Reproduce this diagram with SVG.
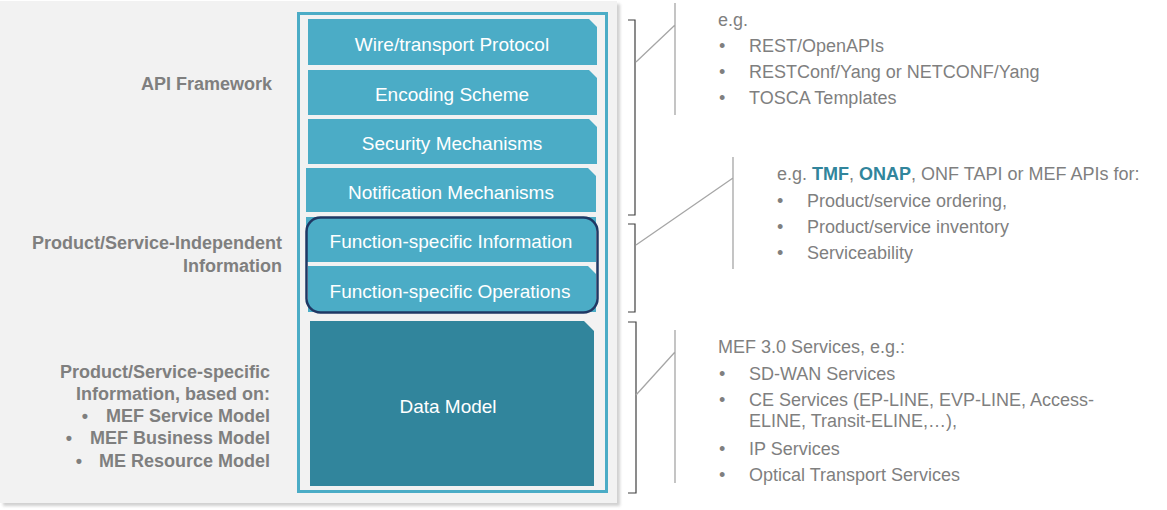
<svg xmlns="http://www.w3.org/2000/svg" width="1167" height="510" viewBox="0 0 1167 510">
<defs>
<filter id="sh" x="-5%" y="-5%" width="110%" height="110%"><feGaussianBlur stdDeviation="1.5"/></filter>
</defs>
<style>
.box{fill:#4bacc6;}
.dm{fill:#31859c;}
.bt{font-family:"Liberation Sans",Arial,sans-serif;font-size:19px;fill:#ffffff;text-anchor:middle;}
.lt{font-family:"Liberation Sans",Arial,sans-serif;font-size:18px;font-weight:bold;fill:#7f7f7f;text-anchor:end;}
.rt{font-family:"Liberation Sans",Arial,sans-serif;font-size:18px;fill:#7f7f7f;}
.hl{font-weight:bold;fill:#31859c;}
.br{fill:none;stroke:#404040;stroke-width:1.2;}
.ln{fill:none;stroke:#a6a6a6;stroke-width:1.3;}
</style>
<rect width="1167" height="510" fill="#ffffff"/>
<g id="panel">
<rect x="3" y="4" width="617" height="502" fill="#d0d0d0" filter="url(#sh)"/>
<rect x="0" y="1" width="617" height="502" fill="#f2f2f2"/>
<rect x="298.5" y="13.5" width="308" height="478" fill="none" stroke="#4bacc6" stroke-width="3"/>
</g>
<g id="wire"><path class="box" d="M308 19H589L597 27V65H308Z"/><text class="bt" x="452" y="51">Wire/transport Protocol</text></g>
<g id="encoding"><path class="box" d="M308 70H589L597 78V115H308Z"/><text class="bt" x="452" y="101">Encoding Scheme</text></g>
<g id="security"><path class="box" d="M308 119H589L597 127V164H308Z"/><text class="bt" x="452" y="150">Security Mechanisms</text></g>
<g id="notification"><path class="box" d="M306 168H588L596 176V212H306Z"/><text class="bt" x="451" y="199">Notification Mechanisms</text></g>
<g id="fsinfo"><rect class="box" x="306" y="217" width="290" height="45"/><text class="bt" x="451" y="248">Function-specific Information</text></g>
<g id="fsops"><path class="box" d="M308 266H588L596 274V312H308Z"/><text class="bt" x="450" y="298">Function-specific Operations</text></g>
<g id="fsgroup"><rect x="306.5" y="217.5" width="291" height="95" rx="14" fill="none" stroke="#1f3864" stroke-width="2.5"/></g>
<g id="datamodel"><path class="dm" d="M310 321H584L594 331V486H310Z"/><text class="bt" x="448" y="413">Data Model</text></g>
<g id="labels">
<text class="lt" x="272" y="90">API Framework</text>
<text class="lt" x="282" y="249">Product/Service-Independent</text>
<text class="lt" x="282" y="272">Information</text>
<text class="lt" x="270" y="378">Product/Service-specific</text>
<text class="lt" x="270" y="400">Information, based on:</text>
<text class="lt" x="270" y="422">MEF Service Model</text>
<text class="lt" x="270" y="444">MEF Business Model</text>
<text class="lt" x="270" y="467">ME Resource Model</text>
<text class="lt" x="88" y="422">•</text>
<text class="lt" x="72" y="444">•</text>
<text class="lt" x="82" y="467">•</text>
</g>
<g id="connectors">
<path class="br" d="M628 20H635V215H628"/>
<path class="br" d="M628 224H635V312H628"/>
<path class="br" d="M628 322H636V493H628"/>
<path class="ln" d="M636 62L675 25M675 3V115"/>
<path class="ln" d="M636 245L733 178M733 157V269"/>
<path class="ln" d="M636 395L675 352M675 330V483"/>
</g>
<g id="notes1">
<text class="rt" x="718" y="26">e.g.</text>
<text class="rt" x="719" y="52">•</text><text class="rt" x="749" y="52">REST/OpenAPIs</text>
<text class="rt" x="719" y="78">•</text><text class="rt" x="749" y="78">RESTConf/Yang or NETCONF/Yang</text>
<text class="rt" x="719" y="104">•</text><text class="rt" x="749" y="104">TOSCA Templates</text>
</g>
<g id="notes2">
<text class="rt" x="777" y="180">e.g. <tspan class="hl">TMF</tspan>, <tspan class="hl">ONAP</tspan>, ONF TAPI or MEF APIs for:</text>
<text class="rt" x="777" y="207">•</text><text class="rt" x="807" y="207">Product/service ordering,</text>
<text class="rt" x="777" y="233">•</text><text class="rt" x="807" y="233">Product/service inventory</text>
<text class="rt" x="777" y="259">•</text><text class="rt" x="807" y="259">Serviceability</text>
</g>
<g id="notes3">
<text class="rt" x="718" y="353">MEF 3.0 Services, e.g.:</text>
<text class="rt" x="719" y="380">•</text><text class="rt" x="749" y="380">SD-WAN Services</text>
<text class="rt" x="719" y="406">•</text><text class="rt" x="749" y="406">CE Services (EP-LINE, EVP-LINE, Access-</text>
<text class="rt" x="749" y="427">ELINE, Transit-ELINE,…),</text>
<text class="rt" x="719" y="455">•</text><text class="rt" x="749" y="455">IP Services</text>
<text class="rt" x="719" y="481">•</text><text class="rt" x="749" y="481">Optical Transport Services</text>
</g>
</svg>
